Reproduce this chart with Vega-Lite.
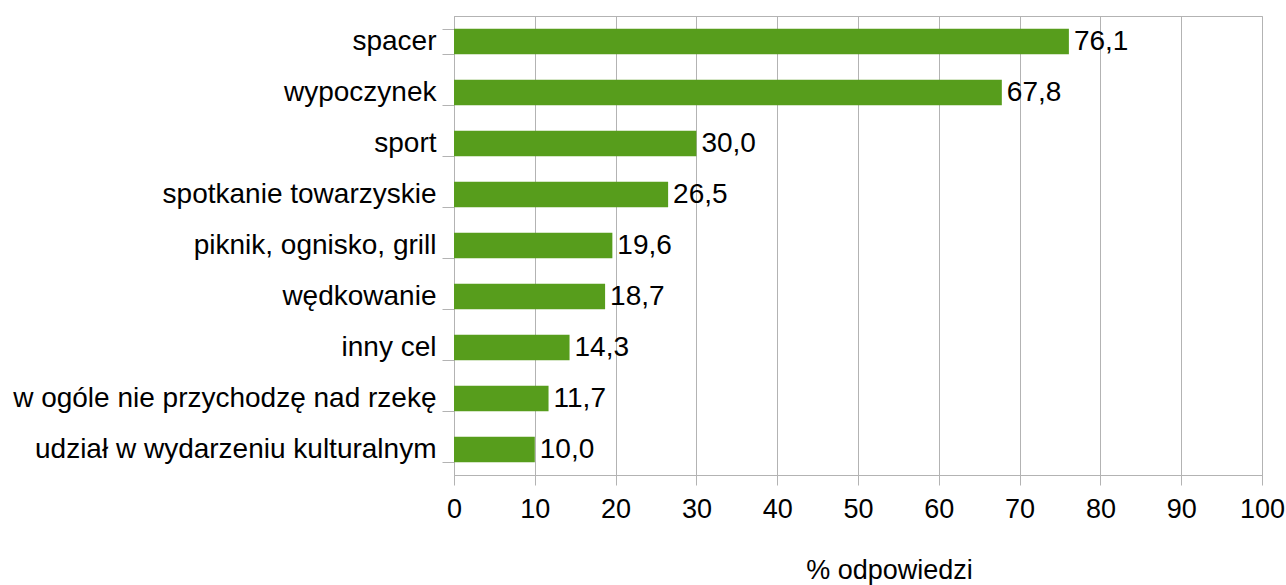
{
  "$schema": "https://vega.github.io/schema/vega-lite/v6.json",
  "width": 808,
  "height": 459,
  "autosize": {"type": "none"},
  "padding": {"left": 454, "top": 16, "right": 24, "bottom": 110},
  "background": "white",
  "config": {
    "font": "Liberation Sans",
    "view": {"stroke": "#b3b3b3", "strokeWidth": 1}
  },
  "data": {
    "values": [
      {"cel": "spacer", "procent": 76.1, "etykieta": "76,1"},
      {"cel": "wypoczynek", "procent": 67.8, "etykieta": "67,8"},
      {"cel": "sport", "procent": 30.0, "etykieta": "30,0"},
      {"cel": "spotkanie towarzyskie", "procent": 26.5, "etykieta": "26,5"},
      {"cel": "piknik, ognisko, grill", "procent": 19.6, "etykieta": "19,6"},
      {"cel": "wędkowanie", "procent": 18.7, "etykieta": "18,7"},
      {"cel": "inny cel", "procent": 14.3, "etykieta": "14,3"},
      {"cel": "w ogóle nie przychodzę nad rzekę", "procent": 11.7, "etykieta": "11,7"},
      {"cel": "udział w wydarzeniu kulturalnym", "procent": 10.0, "etykieta": "10,0"}
    ]
  },
  "encoding": {
    "y": {
      "field": "cel",
      "type": "nominal",
      "sort": null,
      "scale": {"paddingInner": 0.5, "paddingOuter": 0.25},
      "axis": {
        "title": null,
        "tickBand": "extent",
        "tickSize": 12,
        "tickColor": "#b3b3b3",
        "domainColor": "#b3b3b3",
        "grid": false,
        "labelFontSize": 28,
        "labelColor": "#000000",
        "labelPadding": 6,
        "labelLimit": 600
      }
    },
    "x": {
      "field": "procent",
      "type": "quantitative",
      "scale": {"domain": [0, 100], "nice": false},
      "axis": {
        "title": "% odpowiedzi",
        "values": [0, 10, 20, 30, 40, 50, 60, 70, 80, 90, 100],
        "tickSize": 10,
        "tickColor": "#b3b3b3",
        "domainColor": "#b3b3b3",
        "gridColor": "#b3b3b3",
        "labelFontSize": 27,
        "labelColor": "#000000",
        "labelPadding": 11,
        "labelFlush": false,
        "titleFontSize": 27,
        "titleFontWeight": "normal",
        "titleColor": "#000000",
        "titleX": 435,
        "titleY": 103,
        "titleAlign": "center",
        "titleBaseline": "alphabetic"
      }
    }
  },
  "layer": [
    {"mark": {"type": "bar", "color": "#579d1c"}},
    {
      "mark": {"type": "text", "align": "left", "baseline": "middle", "dx": 5, "fontSize": 28, "color": "#000000"},
      "encoding": {"text": {"field": "etykieta"}}
    }
  ]
}
